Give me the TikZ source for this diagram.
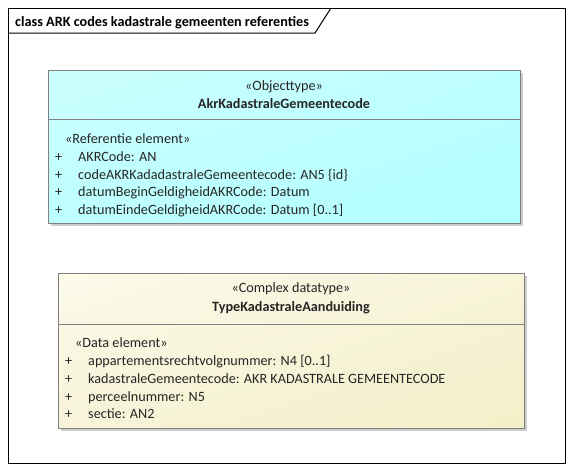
\documentclass[tikz,border=0pt]{standalone}
\usepackage{fontspec}
\usetikzlibrary{shadings}
\setmainfont{Carlito}
\definecolor{cyanA}{RGB}{204,255,255}
\definecolor{cyanB}{RGB}{178,255,255}
\definecolor{cyanM}{RGB}{190,255,255}
\definecolor{beigeA}{RGB}{252,250,234}
\definecolor{beigeB}{RGB}{242,239,200}
\definecolor{beigeM}{RGB}{247,244,217}
\begin{document}
\begin{tikzpicture}[x=1pt,y=-1pt,
  frameline/.style={draw=black,line width=1pt},
  boxline/.style={draw=black!50,line width=0.9pt},
  shadowfill/.style={fill=black!20},
  lbl/.style={inner sep=0pt,anchor=base west,font=\fontsize{14.2}{17}\selectfont,text=black!85},
  ctr/.style={inner sep=0pt,anchor=base,font=\fontsize{14.2}{17}\selectfont,text=black!85},
  ttl/.style={inner sep=0pt,anchor=base,font=\bfseries\fontsize{14.2}{17}\selectfont,text=black!85}]
\useasboundingbox (0,0) rectangle (573,471);
\fill[white] (0,0) rectangle (573,471);
% diagram frame with title tab
\draw[frameline] (8,8) rectangle (565,463);
\draw[frameline] (8,33) -- (315,33) -- (331,8);
\node[inner sep=0pt,anchor=base west,font=\bfseries\fontsize{14.2}{17}\selectfont] (title) at (15,26) {class ARK codes kadastrale gemeenten referenties};

% object type class
\fill[shadowfill] (51,73) rectangle (523,226);
\shade[upper left=cyanA,upper right=cyanM,lower left=cyanM,lower right=cyanB] (48,70) rectangle (520,223);
\draw[boxline] (48,70) rectangle (520,223);
\draw[boxline] (48,119) -- (520,119);
\node[ctr] (st1) at (284,90.5) {«Objecttype»};
\node[ttl] (nm1) at (284,108.5) {AkrKadastraleGemeentecode};
\node[lbl] (sa1) at (65,143) {«Referentie element»};
\foreach \y/\t [count=\i] in {161.5/{AKRCode: AN},179/{codeAKRKadadastraleGemeentecode: AN5 \{id\}},196.5/{datumBeginGeldigheidAKRCode: Datum},214/{datumEindeGeldigheidAKRCode: Datum [0..1]}}{
  \node[lbl] (p1\i) at (55,\y) {+};
  \node[lbl] (a1\i) at (78,\y) {\t};
}

% complex datatype class
\fill[shadowfill] (61,276) rectangle (527,431);
\shade[upper left=beigeA,upper right=beigeM,lower left=beigeM,lower right=beigeB] (58,273) rectangle (524,428);
\draw[boxline] (58,273) rectangle (524,428);
\draw[boxline] (58,324) -- (524,324);
\node[ctr] (st2) at (291,292.5) {«Complex datatype»};
\node[ttl] (nm2) at (291,311.5) {TypeKadastraleAanduiding};
\node[lbl] (sa2) at (75,347) {«Data element»};
\foreach \y/\t [count=\i] in {365/{appartementsrechtvolgnummer: N4 [0..1]},383.3/{kadastraleGemeentecode: AKR KADASTRALE GEMEENTECODE},401/{perceelnummer: N5},418.3/{sectie: AN2}}{
  \node[lbl] (p2\i) at (65,\y) {+};
  \node[lbl] (a2\i) at (88,\y) {\t};
}
\end{tikzpicture}
\end{document}
